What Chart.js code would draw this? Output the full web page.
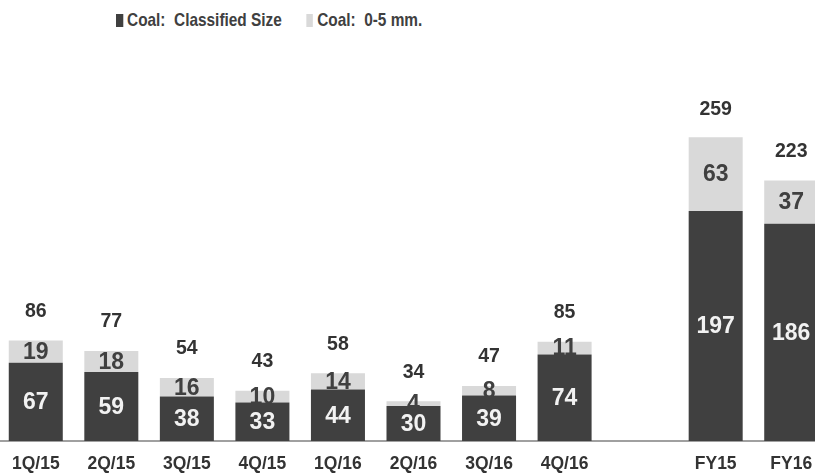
<!DOCTYPE html>
<html>
<head>
<meta charset="utf-8">
<script src="https://cdn.jsdelivr.net/npm/chart.js@4/dist/chart.umd.min.js"></script>
<style>
  html, body { margin: 0; padding: 0; background: #fff; overflow: hidden; }
  body { width: 815px; height: 474px; position: relative; }
  #legend {
    position: absolute; left: 116px; top: 9px;
    display: flex; align-items: center;
    font: bold 19px "Liberation Sans", Arial, sans-serif;
    color: #404040; white-space: pre;
    transform: scaleX(0.81); transform-origin: 0 50%;
  }
  #legend .item { display: flex; align-items: center; margin-right: 30px; }
  #legend .box { width: 8.6px; height: 13px; margin-right: 5px; }
  #wrap { position: absolute; left: -2px; top: 0; width: 831px; height: 474px; }
</style>
</head>
<body>
<div id="legend"></div>
<div id="wrap"><canvas id="coalChart"></canvas></div>
<script>
const categories = ["1Q/15", "2Q/15", "3Q/15", "4Q/15", "1Q/16", "2Q/16", "3Q/16", "4Q/16", "", "FY15", "FY16"];
const classifiedSize = [67, 59, 38, 33, 44, 30, 39, 74, null, 197, 186];
const fines = [19, 18, 16, 10, 14, 4, 8, 11, null, 63, 37];
const totals = [86, 77, 54, 43, 58, 34, 47, 85, null, 259, 223];

const seriesNames = ["Coal:  Classified Size", "Coal:  0-5 mm."];
const seriesColors = ["#404040", "#d9d9d9"];

// legend
const legendEl = document.getElementById("legend");
seriesNames.forEach((name, i) => {
    const item = document.createElement("div");
    item.className = "item";
    const box = document.createElement("span");
    box.className = "box";
    box.style.background = seriesColors[i];
    const txt = document.createElement("span");
    txt.textContent = name;
    item.appendChild(box);
    item.appendChild(txt);
    legendEl.appendChild(item);
});

const FONT = "'Liberation Sans', Arial, sans-serif";

// value labels: light segment labels go under the dark bars, the rest on top
const valueLabels = {
    id: "valueLabels",
    afterDatasetDraw(chart, args) {
        if (args.index !== 1) return;
        const ctx = chart.ctx;
        const meta = chart.getDatasetMeta(1);
        ctx.save();
        ctx.font = "bold 23px " + FONT;
        ctx.fillStyle = "#404040";
        ctx.textAlign = "center";
        ctx.textBaseline = "middle";
        meta.data.forEach((bar, i) => {
            if (fines[i] == null) return;
            ctx.fillText(fines[i], bar.x, (bar.y + bar.base) / 2 + 1);
        });
        ctx.restore();
    },
    afterDatasetsDraw(chart) {
        const ctx = chart.ctx;
        const dark = chart.getDatasetMeta(0);
        const light = chart.getDatasetMeta(1);
        ctx.save();
        ctx.textAlign = "center";
        ctx.textBaseline = "middle";
        ctx.font = "bold 23px " + FONT;
        ctx.fillStyle = "#f2f2f2";
        dark.data.forEach((bar, i) => {
            if (classifiedSize[i] == null) return;
            ctx.fillText(classifiedSize[i], bar.x, (bar.y + bar.base) / 2 + 1);
        });
        ctx.font = "bold 19.5px " + FONT;
        ctx.fillStyle = "#333333";
        light.data.forEach((bar, i) => {
            if (totals[i] == null) return;
            const top = chart.scales.y.getPixelForValue(totals[i]);
            ctx.fillText(totals[i], bar.x, top - 29);
        });
        ctx.restore();
    }
};

new Chart(document.getElementById("coalChart"), {
    type: "bar",
    data: {
        labels: categories,
        datasets: [
            {
                label: seriesNames[0],
                data: classifiedSize,
                backgroundColor: seriesColors[0]
            },
            {
                label: seriesNames[1],
                data: fines,
                backgroundColor: seriesColors[1]
            }
        ]
    },
    options: {
        responsive: true,
        maintainAspectRatio: false,
        animation: false,
        events: [],
        layout: { padding: { top: 90.6, left: 0, right: 0, bottom: 0 } },
        datasets: {
            bar: { categoryPercentage: 1, barPercentage: 0.715 }
        },
        scales: {
            x: {
                stacked: true,
                grid: { display: false, drawTicks: false },
                border: { display: true, color: "#a0a0a0", width: 2 },
                ticks: {
                    padding: 13,
                    color: "#333333",
                    font: { family: FONT, size: 17.5, weight: "bold" }
                },
                afterFit(scale) { scale.height = 33; }
            },
            y: {
                stacked: true,
                display: false,
                min: 0,
                max: 300
            }
        },
        plugins: {
            legend: { display: false },
            tooltip: { enabled: false }
        }
    },
    plugins: [valueLabels]
});
</script>
</body>
</html>
